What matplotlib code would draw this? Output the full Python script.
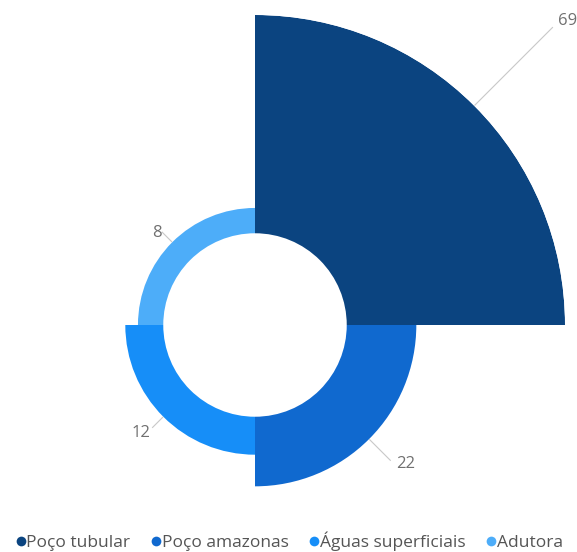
import numpy as np
import matplotlib
matplotlib.use("Agg")
import matplotlib.pyplot as plt
from matplotlib.lines import Line2D

categories = ["Poço tubular", "Poço amazonas", "Águas superficiais", "Adutora"]
values = [69, 22, 12, 8]
colors = ["#0B4480", "#1069CF", "#168EF8", "#4DADF9"]

plt.rcParams['font.family'] = ['Open Sans', 'DejaVu Sans']

W, H = 577, 552
fig = plt.figure(figsize=(W / 100, H / 100), dpi=100)

cx, cy = 255, 552 - 325   # centre in px (y up)
Rpx = 310                 # outer radius of largest sector in px
hole = 29                 # hole radius in value units
rmax = hole + max(values)

ax = fig.add_axes([(cx - Rpx) / W, (cy - Rpx) / H, 2 * Rpx / W, 2 * Rpx / H],
                  projection='polar')
ax.set_theta_zero_location('N')
ax.set_theta_direction(-1)
ax.set_ylim(0, rmax)
ax.set_axis_off()

n = len(values)
width = 2 * np.pi / n
thetas = np.arange(n) * width + width / 2
ax.bar(thetas, values, width=width, bottom=hole, color=colors,
       edgecolor='none', linewidth=0, align='center')

# label leader lines and texts: (line end r, text r, text angle offset deg)
label_geom = [(133, 138, 0.8), (60.5, 64.8, -2.2), (45.8, 49.8, 1.5), (41.5, 42.5, -2.0)]
for th, v, (rl, rt, dth) in zip(thetas, values, label_geom):
    r0 = hole + v + 0.3
    ax.plot([th, th], [r0, rl], color='#c8c8c8', lw=0.8, clip_on=False)
    ax.text(th + np.deg2rad(dth), rt, str(v), ha='center', va='center',
            fontsize=12, color='#707070', clip_on=False)

handles = [Line2D([0], [0], marker='o', linestyle='none', markersize=7,
                  markerfacecolor=c, markeredgecolor='none') for c in colors]
fig.legend(handles, categories, loc='center', bbox_to_anchor=(0.502, 1 - 541 / H),
           ncol=4, frameon=False, handlelength=0.45, handletextpad=0.1,
           columnspacing=1.25, fontsize=12.5, labelcolor='#555555',
           borderaxespad=0, borderpad=0)

fig.savefig('out.png', dpi=100, facecolor='white')
